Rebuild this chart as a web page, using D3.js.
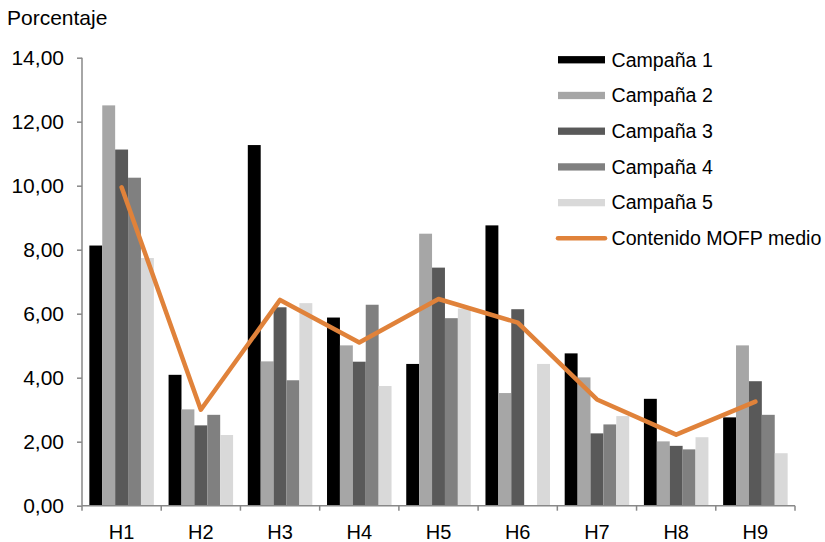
<!DOCTYPE html>
<html>
<head>
<meta charset="utf-8">
<script src="https://cdn.jsdelivr.net/npm/d3@7"></script>
<style>
  html, body { margin: 0; padding: 0; background: #fff; }
  text { font-family: "Liberation Sans", Arial, sans-serif; fill: #000; }
</style>
</head>
<body>
<svg id="chart" width="825" height="542"></svg>
<script>
// Categories (horizons) and per-campaign percentages
const categories = ["H1", "H2", "H3", "H4", "H5", "H6", "H7", "H8", "H9"];
const seriesNames = ["Campaña 1", "Campaña 2", "Campaña 3", "Campaña 4", "Campaña 5"];
const campana1 = [8.13, 4.09, 11.27, 5.88, 4.43, 8.76, 4.76, 3.34, 2.76];
const campana2 = [12.51, 3.01, 4.51, 5.01, 8.50, 3.52, 4.01, 2.01, 5.01];
const campana3 = [11.13, 2.51, 6.20, 4.50, 7.44, 6.14, 2.26, 1.87, 3.89];
const campana4 = [10.25, 2.84, 3.92, 6.28, 5.86, null, 2.54, 1.76, 2.84];
const campana5 = [7.74, 2.21, 6.33, 3.74, 6.16, 4.43, 2.80, 2.14, 1.64];
const mofpMedio = [9.95, 3.00, 6.43, 5.10, 6.46, 5.72, 3.32, 2.22, 3.25];
const lineName = "Contenido MOFP medio";
const yTicks = [0, 2, 4, 6, 8, 10, 12, 14];

const seriesValues = [campana1, campana2, campana3, campana4, campana5];
const barColors = ["#000000", "#a6a6a6", "#595959", "#808080", "#d9d9d9"];
const lineColor = "#e0823a";
const axisColor = "#888888";

const svg = d3.select("#chart");
const plotLeft = 82, plotRight = 795, plotTop = 57.7, plotBottom = 505.7;

const x = d3.scaleBand().domain(categories).range([plotLeft, plotRight]).paddingInner(0).paddingOuter(0);
const xInner = d3.scaleBand().domain(d3.range(seriesNames.length))
  .range([0, x.bandwidth()]).paddingOuter(0.57).paddingInner(0);
const y = d3.scaleLinear().domain([0, 14]).range([plotBottom, plotTop]);

const fmt = v => v.toFixed(2).replace(".", ",");

// Bars
const groups = svg.append("g").selectAll("g")
  .data(categories)
  .join("g")
  .attr("transform", d => `translate(${x(d)},0)`);

groups.selectAll("rect")
  .data((d, i) => seriesValues.map((s, k) => ({ k, v: s[i] })).filter(e => e.v != null))
  .join("rect")
  .attr("x", e => xInner(e.k))
  .attr("width", xInner.bandwidth())
  .attr("y", e => y(e.v))
  .attr("height", e => y(0) - y(e.v))
  .attr("fill", e => barColors[e.k]);

// Y axis
const yAxis = d3.axisLeft(y).tickValues(yTicks).tickFormat(fmt).tickSize(5).tickPadding(13);
const gy = svg.append("g").attr("transform", `translate(${plotLeft},0)`).call(yAxis);
gy.select(".domain").attr("stroke", axisColor).attr("stroke-width", 1.5).attr("d", `M0,${plotTop}V${plotBottom}`);
gy.selectAll(".tick line").attr("stroke", axisColor).attr("stroke-width", 1.5);
gy.selectAll(".tick text").attr("font-size", 21).attr("dy", "0.34em")
  .attr("font-family", "Liberation Sans, Arial, sans-serif").attr("fill", "#000");

// X axis: ticks at category boundaries, labels at band centres
const gx = svg.append("g").attr("transform", `translate(0,${plotBottom})`);
gx.append("path").attr("d", `M${plotLeft},0H${plotRight}`).attr("stroke", axisColor).attr("stroke-width", 1.5).attr("fill", "none");
const bounds = categories.map(c => x(c)).concat([plotRight]);
gx.selectAll("line.bt").data(bounds).join("line")
  .attr("class", "bt")
  .attr("x1", d => d).attr("x2", d => d)
  .attr("y1", 0).attr("y2", 5)
  .attr("stroke", axisColor).attr("stroke-width", 1.5);
gx.selectAll("text").data(categories).join("text")
  .attr("x", d => x(d) + x.bandwidth() / 2)
  .attr("y", 33)
  .attr("text-anchor", "middle")
  .attr("font-size", 20)
  .text(d => d);

// Mean content line
const line = d3.line()
  .x((d, i) => x(categories[i]) + x.bandwidth() / 2)
  .y(d => y(d));
svg.append("path")
  .datum(mofpMedio)
  .attr("d", line)
  .attr("fill", "none")
  .attr("stroke", lineColor)
  .attr("stroke-width", 4.5)
  .attr("stroke-linecap", "round")
  .attr("stroke-linejoin", "round");

// Axis title
svg.append("text")
  .attr("x", 7).attr("y", 25)
  .attr("font-size", 21)
  .text("Porcentaje");

// Legend
const legend = svg.append("g");
const legendRows = seriesNames.map((n, k) => ({ name: n, type: "bar", color: barColors[k] }))
  .concat([{ name: lineName, type: "line", color: lineColor }]);
const legendY = d3.scalePoint().domain(d3.range(legendRows.length)).range([59.7, 238.3]);
const rows = legend.selectAll("g").data(legendRows).join("g")
  .attr("transform", (d, i) => `translate(558,${legendY(i)})`);
rows.filter(d => d.type === "bar").append("rect")
  .attr("x", 0).attr("y", -3.6).attr("width", 47).attr("height", 7.3)
  .attr("fill", d => d.color);
rows.filter(d => d.type === "line").append("line")
  .attr("x1", 0).attr("x2", 47).attr("y1", 0).attr("y2", 0)
  .attr("stroke", d => d.color).attr("stroke-width", 4.5).attr("stroke-linecap", "round");
rows.append("text")
  .attr("x", 53.5).attr("y", 0).attr("dy", "0.35em")
  .attr("font-size", 19.6)
  .text(d => d.name);
</script>
</body>
</html>
